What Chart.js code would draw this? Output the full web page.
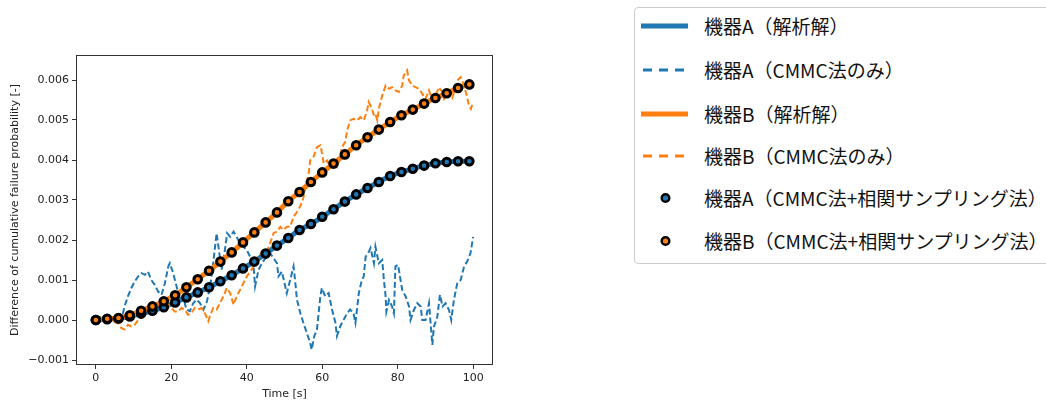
<!DOCTYPE html>
<html>
<head>
<meta charset="utf-8">
<script src="https://cdn.jsdelivr.net/npm/chart.js@4.4.0/dist/chart.umd.min.js"></script>
<style>
  body { margin: 0; background: #fff; }
  #wrap { position: relative; width: 1046px; height: 403px; overflow: hidden; }
  #legend {
    position: absolute; left: 634px; top: 7px; width: 440px; height: 257px;
    border: 1px solid #cccccc; border-radius: 4px; box-sizing: border-box; background: #fff;
    font-family: "Noto Sans CJK JP", sans-serif; font-size: 19px; color: #111;
  }
  .row { position: absolute; left: 0; height: 30px; display: flex; align-items: center; white-space: nowrap; }
  .row svg { position: absolute; left: 6px; top: 0; }
  .row span { position: absolute; left: 69px; line-height: 30px; }
</style>
</head>
<body>
<div id="wrap">
  <canvas id="myChart" width="1046" height="403"></canvas>
  <div id="legend"></div>
</div>
<script>
// series labels
var labels = ['機器A（解析解）', '機器A（CMMC法のみ）', '機器B（解析解）', '機器B（CMMC法のみ）',
              '機器A（CMMC法+相関サンプリング法）', '機器B（CMMC法+相関サンプリング法）'];
var xTicks = [0, 20, 40, 60, 80, 100];
var yTicks = [-0.001, 0, 0.001, 0.002, 0.003, 0.004, 0.005, 0.006];

// analytical solution (markers at every 3 s, line to 100 s)
var tAna = [0, 3, 6, 9, 12, 15, 18, 21, 24, 27, 30, 33, 36, 39, 42, 45, 48, 51, 54, 57, 60, 63, 66, 69, 72, 75, 78, 81, 84, 87, 90, 93, 96, 99, 100];
var aAna = [0, 0.00002, 0.00004, 0.00009, 0.00016, 0.00023, 0.00032, 0.00044, 0.000565, 0.00069, 0.00082, 0.00097, 0.00112, 0.00129, 0.00146, 0.00166, 0.00186, 0.00205, 0.00225, 0.0024, 0.00258, 0.00277, 0.00296, 0.00314, 0.0033, 0.00345, 0.0036, 0.0037, 0.00378, 0.00386, 0.00392, 0.00395, 0.00397, 0.00397, 0.00397];
var bAna = [0, 0.00003, 0.00005, 0.00012, 0.00023, 0.00034, 0.00047, 0.00062, 0.00082, 0.00102, 0.00123, 0.00146, 0.00169, 0.00194, 0.00219, 0.00244, 0.00269, 0.00297, 0.0032, 0.00345, 0.00369, 0.00391, 0.00414, 0.00437, 0.00457, 0.00476, 0.00495, 0.00512, 0.00526, 0.00541, 0.00555, 0.00567, 0.0058, 0.00589, 0.00591];
var nMark = 34;

// CMMC only (noisy)
var tA = [0, 1.4, 2.8, 4.1, 5.4, 6.7, 7.6, 8.5, 9.4, 10.3, 11.2, 12.1, 13.0, 13.8, 14.7, 15.6, 16.5, 17.4, 18.3, 19.2, 19.6, 20.5, 21.4, 22.3, 23.1, 24.0, 24.9, 25.8, 26.7, 27.6, 28.5, 29.4, 30.3, 31.1, 32.0, 32.5, 33.3, 34.2, 34.8, 35.6, 36.5, 37.3, 38.2, 39.1, 40.0, 40.9, 41.8, 42.2, 43.1, 44.0, 44.9, 46.2, 47.1, 48.0, 48.4, 49.3, 50.2, 50.6, 51.5, 52.4, 52.8, 53.3, 54.2, 55.0, 55.9, 56.8, 57.2, 57.9, 58.6, 59.5, 59.9, 60.8, 61.7, 62.6, 63.5, 63.9, 64.8, 65.7, 66.6, 67.4, 68.3, 68.8, 69.7, 70.1, 70.5, 71.0, 71.5, 72.4, 72.8, 73.7, 74.1, 75.0, 75.9, 76.3, 76.8, 77.0, 77.7, 78.5, 79.0, 79.4, 80.1, 80.6, 81.2, 82.1, 83.0, 83.4, 84.3, 85.2, 86.1, 86.5, 87.4, 88.3, 88.8, 89.2, 89.6, 90.5, 91.2, 91.9, 92.7, 93.6, 94.2, 94.9, 95.8, 96.7, 97.6, 98.4, 99.3, 100];
var vA = [0, 0.00009, 0.00004, 0, 0.00004, -0.00004, 0.00034, 0.00059, 0.0008, 0.00096, 0.00109, 0.00117, 0.00113, 0.00121, 0.001, 0.00088, 0.00071, 0.00063, 0.00092, 0.00134, 0.00142, 0.00117, 0.00084, 0.00051, 0.0006, 0.00026, 0.00022, 0.00042, 0.00051, 0.00042, 0.00026, 0.00045, 0.00084, 0.00142, 0.00217, 0.00183, 0.00125, 0.00175, 0.00217, 0.00208, 0.00221, 0.00208, 0.00192, 0.00183, 0.00175, 0.00158, 0.00134, 0.00084, 0.00125, 0.00142, 0.00154, 0.00167, 0.00154, 0.00142, 0.00109, 0.00121, 0.00084, 0.00067, 0.001, 0.00134, 0.001, 0.00051, 0.00017, -0.00007, -0.00032, -0.00057, -0.00074, -0.0004, -0.00024, 0.00059, 0.0008, 0.00059, 0.00067, 0.00026, -0.00007, -0.0004, -0.00015, 0.00001, 0.00017, 0.00026, 0.00017, -0.00007, 0.00067, 0.00084, 0.001, 0.00109, 0.00158, 0.00171, 0.0018, 0.00142, 0.00183, 0.00142, 0.0015, 0.00105, 0.00059, 0.00021, 0.0005, 0.00034, 0.00017, 0.00134, 0.00138, 0.00109, 0.00075, 0.00059, 0.00034, 0, 0.00025, 0.00042, 0.00034, 0, 0, 0.00042, -0.00017, -0.00062, -0.00017, 0.00008, 0.00063, 0.00034, 0.00042, 0.00025, 0, 0.0005, 0.00092, 0.001, 0.00134, 0.00146, 0.00167, 0.00208];

var tB = [0, 1.9, 3.2, 4.5, 5.9, 6.7, 7.6, 8.5, 9.4, 10.3, 11.2, 12.1, 13.0, 13.8, 14.7, 15.6, 16.5, 17.4, 18.3, 19.2, 20.0, 20.9, 21.8, 22.7, 23.6, 24.4, 25.3, 26.2, 27.1, 28.0, 28.9, 29.8, 30.2, 31.1, 32.0, 32.9, 33.8, 34.7, 35.6, 36.5, 37.3, 38.2, 39.1, 40.0, 40.9, 41.8, 42.7, 43.5, 44.4, 45.3, 46.2, 47.1, 48.0, 48.9, 49.7, 50.6, 51.5, 52.4, 53.3, 54.2, 55.0, 55.5, 56.4, 56.8, 57.7, 58.6, 59.5, 59.9, 60.4, 61.3, 62.1, 63.0, 63.9, 64.8, 65.2, 66.1, 66.6, 67.4, 68.3, 69.2, 70.1, 71.0, 71.9, 72.3, 73.2, 73.7, 74.1, 74.6, 75.0, 75.9, 76.8, 77.7, 78.5, 79.4, 80.3, 81.2, 81.6, 82.5, 83.0, 83.9, 84.7, 85.6, 86.5, 87.4, 88.3, 89.2, 90.1, 90.9, 91.8, 92.3, 93.2, 94.1, 94.5, 95.4, 95.8, 96.7, 97.6, 98.3, 98.9, 99.4, 100];
var vB = [0, 0, -0.00004, -0.00004, -0.00008, -0.0002, -0.00024, -0.00012, -0.00016, -0.00012, 0, 0.00008, 0.00021, 0.0003, 0.00026, 0.00034, 0.00042, 0.00051, 0.00046, 0.00038, 0.0003, 0.00021, 0.00021, 0.0003, 0.00026, 0.00013, 0.00017, 0.0003, 0.00026, 0.0003, 0.00017, -0.00003, 0.00009, 0.0003, 0.00026, 0.00042, 0.00059, 0.0008, 0.00067, 0.00038, 0.00059, 0.00075, 0.00092, 0.00109, 0.00121, 0.00134, 0.0015, 0.00163, 0.00175, 0.00171, 0.00192, 0.00217, 0.00221, 0.00233, 0.00225, 0.00233, 0.00233, 0.00258, 0.0027, 0.00285, 0.00305, 0.0033, 0.00366, 0.00399, 0.00408, 0.00432, 0.00437, 0.00419, 0.00391, 0.00399, 0.00383, 0.00399, 0.00383, 0.00408, 0.00432, 0.00445, 0.00474, 0.00499, 0.00503, 0.00499, 0.00507, 0.00499, 0.00524, 0.00545, 0.00528, 0.00511, 0.00515, 0.00499, 0.00528, 0.00561, 0.00586, 0.00578, 0.00582, 0.00574, 0.0057, 0.00586, 0.00611, 0.00624, 0.00599, 0.00586, 0.00582, 0.00578, 0.00566, 0.00553, 0.00574, 0.00549, 0.00561, 0.00582, 0.0057, 0.00553, 0.00566, 0.0057, 0.00557, 0.00582, 0.00599, 0.00607, 0.00586, 0.00561, 0.00536, 0.00528, 0.00545];

var blue = '#1f77b4';
var orange = '#ff7f0e';

function pts(xs, ys) {
    return xs.map(function (x, i) { return { x: x, y: ys[i] }; });
}

var tickFont = { family: 'DejaVu Sans', size: 11 };

// plot frame (all four spines)
var frame = {
    id: 'frame',
    afterDatasetsDraw: function (chart) {
        var a = chart.chartArea, c = chart.ctx;
        c.save();
        c.strokeStyle = '#333';
        c.lineWidth = 1;
        c.strokeRect(Math.round(a.left) - 0.5, Math.round(a.top) - 0.5, Math.round(a.right - a.left) + 1, Math.round(a.bottom - a.top) + 1);
        c.restore();
    }
};

var ctx = document.getElementById('myChart').getContext('2d');
var chart = new Chart(ctx, {
    type: 'line',
    data: {
        datasets: [
            { label: labels[4], data: pts(tAna.slice(0, nMark), aAna), showLine: false, pointRadius: 3.8, pointBorderWidth: 3, pointBorderColor: '#000', pointBackgroundColor: blue, order: 1 },
            { label: labels[5], data: pts(tAna.slice(0, nMark), bAna), showLine: false, pointRadius: 3.8, pointBorderWidth: 3, pointBorderColor: '#000', pointBackgroundColor: orange, order: 0 },
            { label: labels[0], data: pts(tAna, aAna), borderColor: blue, borderWidth: 5, pointRadius: 0, cubicInterpolationMode: 'monotone', order: 5 },
            { label: labels[1], data: pts(tA, vA), borderColor: blue, borderWidth: 2, borderDash: [6, 3], pointRadius: 0, order: 4 },
            { label: labels[2], data: pts(tAna, bAna), borderColor: orange, borderWidth: 5, pointRadius: 0, cubicInterpolationMode: 'monotone', order: 3 },
            { label: labels[3], data: pts(tB, vB), borderColor: orange, borderWidth: 2, borderDash: [6, 3], pointRadius: 0, order: 2 }
        ]
    },
    options: {
        responsive: false,
        animation: false,
        layout: { padding: { left: 0, top: 56, right: 554, bottom: 0 } },
        plugins: { legend: { display: false }, tooltip: { enabled: false } },
        scales: {
            x: {
                type: 'linear', min: -5, max: 105,
                afterFit: function (s) { s.height = 39; },
                afterBuildTicks: function (s) { s.ticks = xTicks.map(function (v) { return { value: v }; }); },
                grid: { drawOnChartArea: false, tickLength: 5, color: '#333' },
                border: { display: false },
                ticks: { font: tickFont, color: '#222', padding: 3, maxRotation: 0 },
                title: { display: true, text: 'Time [s]', font: tickFont, color: '#222', padding: { top: 0, bottom: 2 } }
            },
            y: {
                type: 'linear', min: -0.0011, max: 0.0066,
                afterFit: function (s) { s.width = 77; },
                afterBuildTicks: function (s) { s.ticks = yTicks.map(function (v) { return { value: v }; }); },
                grid: { drawOnChartArea: false, tickLength: 5, color: '#333' },
                border: { display: false },
                ticks: {
                    font: tickFont, color: '#222', padding: 3,
                    callback: function (v) { return (v < 0 ? '\u2212' : '') + Math.abs(v).toFixed(3); }
                },
                title: { display: true, text: 'Difference of cumulative failure probability [-]', font: tickFont, color: '#222', padding: { top: 9, bottom: 0 } }
            }
        }
    },
    plugins: [frame]
});

// legend (html)
var legend = document.getElementById('legend');
var rowY = [18, 62, 106, 148, 190, 233];
var handles = [
    '<line x1="0" y1="15" x2="47" y2="15" stroke="' + blue + '" stroke-width="5"/>',
    '<line x1="2" y1="15" x2="47" y2="15" stroke="' + blue + '" stroke-width="3" stroke-dasharray="9 7"/>',
    '<line x1="0" y1="15" x2="47" y2="15" stroke="' + orange + '" stroke-width="5"/>',
    '<line x1="2" y1="15" x2="47" y2="15" stroke="' + orange + '" stroke-width="3" stroke-dasharray="9 7"/>',
    '<circle cx="24.5" cy="15" r="3.8" fill="' + blue + '" stroke="#000" stroke-width="2.4"/>',
    '<circle cx="24.5" cy="15" r="3.8" fill="' + orange + '" stroke="#000" stroke-width="2.4"/>'
];
labels.forEach(function (text, i) {
    var row = document.createElement('div');
    row.className = 'row';
    row.style.top = (rowY[i] - 15) + 'px';
    row.innerHTML = '<svg width="50" height="30">' + handles[i] + '</svg>';
    var span = document.createElement('span');
    span.textContent = text;
    row.appendChild(span);
    legend.appendChild(row);
});
</script>
</body>
</html>
